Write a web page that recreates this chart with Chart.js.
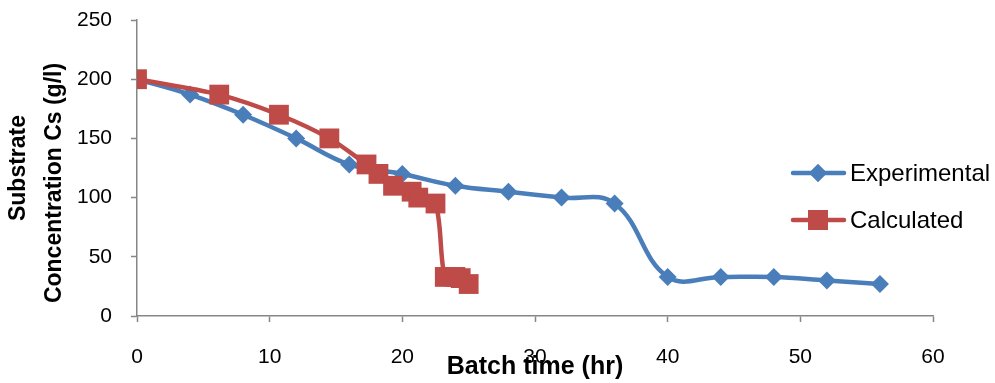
<!DOCTYPE html>
<html>
<head>
<meta charset="utf-8">
<script src="https://cdn.jsdelivr.net/npm/chart.js@4"></script>
<style>
  html, body { margin: 0; padding: 0; background: #fff; }
  #wrap { width: 995px; height: 383px; }
</style>
</head>
<body>
<div id="wrap"><canvas id="chart"></canvas></div>
<script>
// batch time (hr) and substrate concentration (g/l)
const expTime = [0, 4, 8, 12, 16, 20, 24, 28, 32, 36, 40, 44, 48, 52, 56];
const expConc = [200, 187, 170, 150, 128, 120, 110, 105, 100, 95, 33, 33, 33, 30, 27];
const calcTime = [0, 6.2, 10.7, 14.5, 17.3, 18.2, 19.3, 20.7, 21.2, 22.5, 23.2, 24, 24.4, 25];
const calcConc = [200, 187, 170, 150, 128, 120, 110, 105, 100, 95, 33, 33, 32, 27];

const FONT = '"Liberation Sans", Arial, sans-serif';
const BLUE = '#4A7EBB';
const RED = '#BE4B48';
const AXIS = '#868686';

const pts = (xs, ys) => xs.map((x, i) => ({ x: x, y: ys[i] }));

const decor = {
  id: 'decor',
  afterDraw(chart) {
    const ctx = chart.ctx;
    ctx.save();
    ctx.fillStyle = '#000';
    ctx.textAlign = 'center';
    ctx.textBaseline = 'middle';
    // x axis title
    ctx.font = 'bold 25px ' + FONT;
    ctx.fillText('Batch time (hr)', 535, 367);
    // y axis title, two lines
    ctx.font = 'bold 23px ' + FONT;
    ctx.save();
    ctx.translate(19, 168);
    ctx.rotate(-Math.PI / 2);
    ctx.fillText('Substrate', 0, 0);
    ctx.restore();
    ctx.save();
    ctx.translate(55, 183);
    ctx.rotate(-Math.PI / 2);
    ctx.fillText('Concentration Cs (g/l)', 0, 0);
    ctx.restore();

    // legend
    const rows = [
      { label: 'Experimental', color: BLUE, y: 173, style: 'rectRot', r: 9 },
      { label: 'Calculated', color: RED, y: 220, style: 'rect', r: 14 }
    ];
    rows.forEach(row => {
      ctx.strokeStyle = row.color;
      ctx.lineWidth = 4.5;
      ctx.lineCap = 'round';
      ctx.beginPath();
      ctx.moveTo(793, row.y);
      ctx.lineTo(844, row.y);
      ctx.stroke();
      ctx.fillStyle = row.color;
      Chart.helpers.drawPoint(ctx, { pointStyle: row.style, radius: row.r, rotation: 0, borderWidth: 0 }, 818, row.y);
      ctx.fill();
      ctx.fillStyle = '#000';
      ctx.textAlign = 'left';
      ctx.font = '24px ' + FONT;
      ctx.fillText(row.label, 850, row.y + 1);
    });
    ctx.restore();
  }
};

new Chart(document.getElementById('chart'), {
  type: 'line',
  data: {
    datasets: [
      {
        label: 'Experimental',
        data: pts(expTime, expConc),
        borderColor: BLUE,
        backgroundColor: BLUE,
        borderWidth: 4.5,
        pointStyle: 'rectRot',
        pointRadius: 9,
        pointBorderWidth: 0,
        tension: 0.4,
        order: 1
      },
      {
        label: 'Calculated',
        data: pts(calcTime, calcConc),
        borderColor: RED,
        backgroundColor: RED,
        borderWidth: 4.5,
        pointStyle: 'rect',
        pointRadius: 14,
        pointBorderWidth: 0,
        tension: 0.3,
        order: 0
      }
    ]
  },
  options: {
    responsive: true,
    maintainAspectRatio: false,
    animation: false,
    layout: { padding: { top: 20, right: 62, left: 0, bottom: 0 } },
    plugins: {
      legend: { display: false },
      tooltip: { enabled: false }
    },
    scales: {
      x: {
        type: 'linear',
        min: 0,
        max: 60,
        ticks: { stepSize: 10, color: '#000', font: { family: FONT, size: 21 }, padding: 23, maxRotation: 0 },
        grid: { drawOnChartArea: false, color: AXIS, tickLength: 6, tickWidth: 1.5 },
        border: { color: AXIS, width: 1.5 },
        afterFit: s => { s.height = 67; }
      },
      y: {
        min: 0,
        max: 250,
        ticks: { stepSize: 50, color: '#000', font: { family: FONT, size: 21 }, padding: 19 },
        grid: { drawOnChartArea: false, color: AXIS, tickLength: 6, tickWidth: 1.5 },
        border: { color: AXIS, width: 1.5 },
        afterFit: s => { s.width = 137; s.paddingTop = 0; s.paddingBottom = 0; }
      }
    }
  },
  plugins: [decor]
});
</script>
</body>
</html>
